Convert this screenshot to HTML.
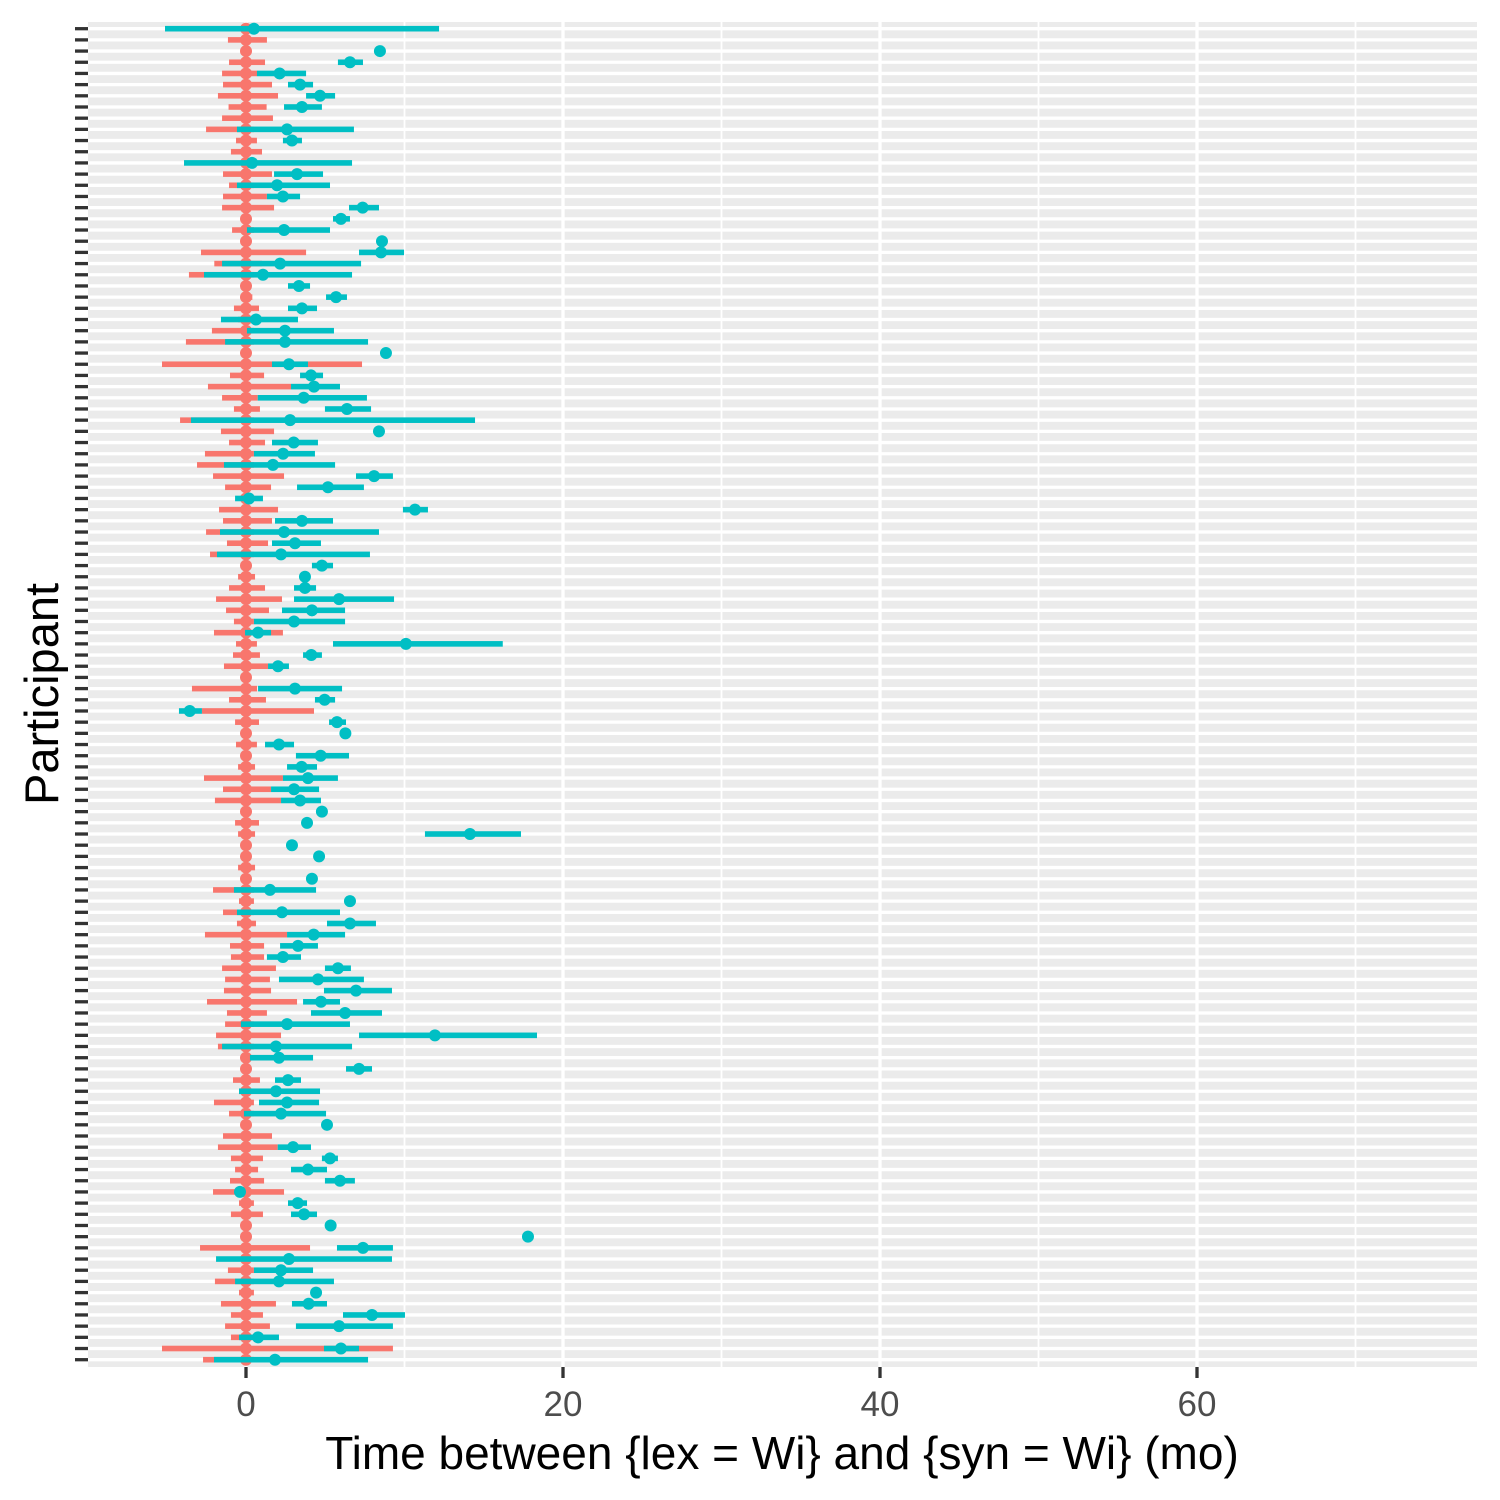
<!DOCTYPE html>
<html><head><meta charset="utf-8"><style>
html,body{margin:0;padding:0;background:#fff;}
svg{display:block;font-family:"Liberation Sans",Arial,sans-serif;}
</style></head><body>
<svg id="chart" width="1500" height="1500" viewBox="0 0 1500 1500" xmlns="http://www.w3.org/2000/svg">
<rect x="88" y="22" width="1389" height="1345" fill="#EBEBEB"/>
<g id="grid"></g>
<g id="ticks"></g>
<g id="marks"></g>
<g id="xaxis"></g>
<text x="782" y="1469" font-size="46" text-anchor="middle" fill="#000">Time between {lex = Wi} and {syn = Wi} (mo)</text>
<text x="0" y="0" font-size="47" text-anchor="middle" fill="#000" transform="translate(58,694) rotate(-90)">Participant</text>
</svg>
<script>
const redPt = new Array(120).fill(0);
const redLo = [-0.3,-1.14,0,-1.07,-1.51,-1.45,-1.77,-1.1,-1.51,-2.52,-0.63,-0.95,0,-1.45,-1.07,-1.45,-1.51,0,-0.88,0,
-2.84,-2.0,-3.6,0,-0.3,-0.76,-0.5,-2.15,-3.79,0,-5.3,-1.01,-2.4,-1.51,-0.76,-4.16,-1.58,-1.07,-2.59,-3.09,
-2.08,-1.32,0,-1.7,-1.45,-2.52,-1.2,-2.27,0,-0.5,-1.07,-1.89,-1.26,-0.76,-2.02,-0.63,-0.82,-1.39,0,-3.41,
-1.07,-2.78,-0.69,0,-0.63,0,-0.5,-2.65,-1.45,-1.96,0,-0.69,-0.5,0,0,-0.5,0,-2.08,-0.44,-1.45,
-0.57,-2.59,-1.01,-0.95,-1.51,-1.32,-1.39,-2.46,-1.2,-1.32,-1.89,-1.77,0,0,-0.82,-0.44,-2.02,-1.07,0,-1.45,
-1.77,-0.95,-0.69,-1.01,-2.08,-0.44,-0.95,0,0,-2.9,0,-1.14,-1.96,-0.44,-1.58,-0.95,-1.32,-0.95,-5.3,-2.71];
const redHi = [0.3,1.32,0,1.2,0.7,1.64,2.02,1.3,1.7,0.5,0.69,1.01,0,1.64,0.5,1.32,1.77,0,0.5,0,
3.79,1.0,0.5,0,0.4,0.82,0.5,0.5,0.5,0,7.32,1.14,2.84,0.74,0.88,0.5,1.77,1.2,0.5,0.5,
2.4,1.58,0,2.02,1.64,0.5,1.39,0.5,0,0.57,1.2,2.27,1.45,0.5,2.33,0.69,0.88,1.39,0,0.7,
1.26,4.29,0.82,0,0.69,0,0.57,2.33,1.58,2.21,0,0.82,0.57,0,0,0.57,0,0.5,0.5,0.5,
0.63,2.59,1.14,1.14,1.89,1.51,1.58,3.22,1.32,0.5,2.21,0.5,0,0,0.88,0.4,0.5,0.5,0,1.64,
2.0,1.07,0.76,1.14,2.4,0.5,1.07,0,0,4.04,0,0.5,0.5,0.5,1.89,1.07,1.51,0.5,9.27,0.5];
const tealPt = [0.5,null,8.45,6.56,2.12,3.41,4.67,3.53,null,2.59,2.9,null,0.38,3.22,1.96,2.33,7.36,5.99,2.4,8.58,
8.52,2.15,1.07,3.34,5.68,3.53,0.63,2.46,2.46,8.83,2.71,4.1,4.29,3.64,6.37,2.78,8.39,3.01,2.34,1.7,
8.08,5.17,0.19,10.66,3.53,2.4,3.09,2.21,4.79,3.72,3.72,5.87,4.16,3.03,0.76,10.09,4.12,2.02,null,3.09,
4.96,-3.55,5.74,6.27,2.08,4.71,3.51,3.91,3.03,3.41,4.79,3.85,14.13,2.9,4.61,null,4.16,1.51,6.56,2.27,
6.56,4.27,3.28,2.33,5.8,4.54,6.94,4.73,6.25,2.59,11.92,1.89,2.08,7.13,2.65,1.89,2.59,2.21,5.11,null,
2.97,5.3,3.91,5.93,-0.38,3.26,3.66,5.34,17.79,7.38,2.71,2.21,2.08,4.42,3.95,7.95,5.87,0.76,5.99,1.83];
const tealLo = [-5.11,null,8.45,5.8,0.69,2.65,3.79,2.4,null,-0.57,2.33,null,-3.91,1.77,-0.57,1.32,6.5,5.49,0.06,8.58,
7.13,-1.51,-2.65,2.65,5.05,2.65,-1.58,0.06,-1.32,8.83,1.64,3.41,2.84,0.74,4.98,-3.47,8.39,1.64,0.5,-1.39,
6.94,3.22,-0.69,9.9,1.83,-1.64,1.64,-1.83,4.16,3.72,3.03,3.03,2.27,0.5,-0.06,5.49,3.6,1.39,null,0.76,
4.35,-4.23,5.24,6.27,1.2,3.15,2.59,2.33,1.58,2.21,4.79,3.85,11.29,2.9,4.61,null,4.16,-0.76,6.56,-0.57,
5.11,2.59,2.15,1.32,4.98,2.08,4.92,3.6,4.1,-0.32,7.13,-1.51,0.25,6.31,1.83,-0.44,0.82,-0.13,5.11,null,
2.0,4.79,2.84,4.98,-0.38,2.65,2.84,5.34,17.79,5.74,-1.89,0.5,-0.69,4.42,2.9,6.12,3.15,-0.44,4.92,-2.02];
const tealHi = [12.18,null,8.45,7.38,3.79,4.23,5.62,4.79,null,6.81,3.53,null,6.69,4.86,5.3,3.41,8.39,6.56,5.3,8.58,
9.97,7.26,6.69,4.04,6.37,4.48,3.28,5.55,7.7,8.83,3.91,4.86,5.93,7.63,7.89,14.45,8.39,4.54,4.35,5.62,
9.27,7.44,1.07,11.48,5.49,8.39,4.73,7.82,5.49,3.72,4.42,9.34,6.25,6.25,1.58,16.2,4.79,2.71,null,6.06,
5.62,-2.78,6.31,6.27,3.03,6.5,4.48,5.8,4.61,4.73,4.79,3.85,17.35,2.9,4.61,null,4.16,4.42,6.56,5.93,
8.2,6.25,4.54,3.47,6.62,7.44,9.21,5.93,8.58,6.56,18.36,6.69,4.23,7.95,3.47,4.67,4.61,5.05,5.11,null,
4.1,5.8,5.11,6.87,-0.38,3.85,4.48,5.34,17.79,9.27,9.21,4.23,5.55,4.42,5.11,10.03,9.27,2.08,7.13,7.7];
const xTicks = [0,20,40,60];
const xMinor = [10,30,50,70];

const NS = "http://www.w3.org/2000/svg";
const PL = 88, PR = 1477, PT = 22, PB = 1367;
const N = redPt.length;
function xs(v){ return 246 + v * 15.85; }
function ys(i){ return 28.7 + i * (1359.7 - 28.7) / (N - 1); }
function mk(tag, attrs, parent){
  const el = document.createElementNS(NS, tag);
  for (const k in attrs) el.setAttribute(k, attrs[k]);
  parent.appendChild(el);
  return el;
}
const grid = document.getElementById('grid');
const ticks = document.getElementById('ticks');
const marks = document.getElementById('marks');
const xaxis = document.getElementById('xaxis');

xMinor.forEach(v => {
  const l = mk('line', {x1: xs(v), x2: xs(v), y1: PT, y2: PB, stroke: '#fff', 'stroke-width': 1.8}, grid);
  
  
});
for (let i = 0; i < N; i++) {
  const l = mk('line', {x1: PL, x2: PR, y1: ys(i), y2: ys(i), stroke: '#fff', 'stroke-width': 3.3}, grid);
  
  
  const t = mk('line', {x1: 75, x2: 88, y1: ys(i), y2: ys(i), stroke: '#333', 'stroke-width': 3.3}, ticks);
  
  
}
xTicks.forEach(v => {
  const l = mk('line', {x1: xs(v), x2: xs(v), y1: PT, y2: PB, stroke: '#fff', 'stroke-width': 3.3}, grid);
  
  
  const t = mk('line', {x1: xs(v), x2: xs(v), y1: PB, y2: PB + 11, stroke: '#333', 'stroke-width': 3.3}, xaxis);
  
  
  const tx = mk('text', {x: xs(v), y: 1416, 'font-size': 35, 'text-anchor': 'middle', fill: '#4D4D4D'}, xaxis);
  tx.textContent = String(v);
  
  
});

const RED = '#F8766D', TEAL = '#00BFC4', BH = 5.6, R = 6;
for (let i = 0; i < N; i++) {
  if (redHi[i] - redLo[i] > 0) {
    const b = mk('rect', {x: xs(redLo[i]), y: ys(i) - BH/2, width: xs(redHi[i]) - xs(redLo[i]), height: BH, fill: RED}, marks);
    
    
  }
  const c = mk('circle', {cx: xs(redPt[i]), cy: ys(i), r: R, fill: RED}, marks);
  
  
}
for (let i = 0; i < N; i++) {
  if (tealPt[i] === null) continue;
  if (tealHi[i] - tealLo[i] > 0) {
    const b = mk('rect', {x: xs(tealLo[i]), y: ys(i) - BH/2, width: xs(tealHi[i]) - xs(tealLo[i]), height: BH, fill: TEAL}, marks);
    
    
  }
  const c = mk('circle', {cx: xs(tealPt[i]), cy: ys(i), r: R, fill: TEAL}, marks);
  
  
}
</script>
</body></html>
